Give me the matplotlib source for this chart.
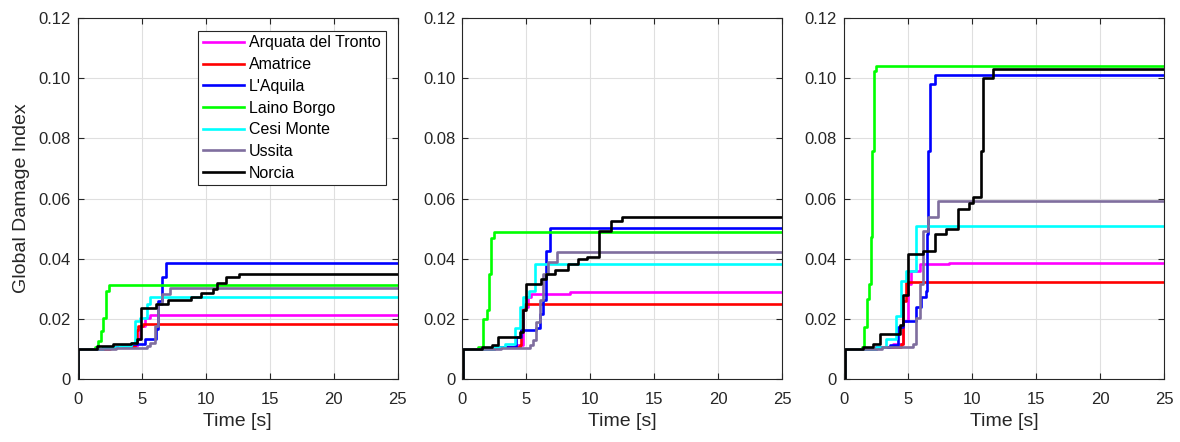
import matplotlib
matplotlib.use("Agg")
import matplotlib.pyplot as plt

plt.rcParams['font.family'] = ['Liberation Sans', 'DejaVu Sans']

names = ["Arquata del Tronto", "Amatrice", "L'Aquila", "Laino Borgo", "Cesi Monte", "Ussita", "Norcia"]
colors = ["#FF00FF", "#FF0000", "#0000FF", "#00FF00", "#00FFFF", "#7F6E9E", "#000000"]

x_ticks = [0, 5, 10, 15, 20, 25]
y_ticks = [0, 0.02, 0.04, 0.06, 0.08, 0.10, 0.12]
y_tick_labels = ["0", "0.02", "0.04", "0.06", "0.08", "0.10", "0.12"]

# ---- Panel 1 ----
arquata_t1 = [0, 0.05, 2.0, 3.5, 4.6, 4.85, 5.24, 5.66, 25]
arquata_v1 = [0, 0.010, 0.0105, 0.011, 0.0132, 0.0176, 0.0204, 0.0214, 0.0214]
amatrice_t1 = [0, 0.05, 2.5, 3.8, 4.46, 4.6, 4.72, 5.07, 25]
amatrice_v1 = [0, 0.010, 0.0105, 0.011, 0.012, 0.0164, 0.0176, 0.0184, 0.0184]
laquila_t1 = [0, 0.05, 2.0, 3.5, 4.2, 5.24, 6.1, 6.3, 6.6, 6.9, 25]
laquila_v1 = [0, 0.010, 0.0105, 0.011, 0.0115, 0.0132, 0.0167, 0.026, 0.0338, 0.0385, 0.0385]
laino_t1 = [0, 0.05, 1.35, 1.6, 1.8, 2.0, 2.2, 2.46, 25]
laino_v1 = [0, 0.010, 0.0105, 0.0127, 0.016, 0.0204, 0.0293, 0.0314, 0.0314]
cesi_t1 = [0, 0.05, 2.0, 3.3, 4.2, 4.46, 4.85, 5.4, 5.66, 25]
cesi_v1 = [0, 0.010, 0.0105, 0.011, 0.012, 0.0193, 0.0204, 0.0249, 0.0274, 0.0274]
ussita_t1 = [0, 0.05, 3.0, 5.4, 5.66, 6.05, 6.24, 6.59, 7.24, 25]
ussita_v1 = [0, 0.010, 0.0103, 0.011, 0.012, 0.0176, 0.0249, 0.0282, 0.0303, 0.0303]
norcia_t1 = [0, 0.05, 1.5, 2.77, 4.2, 4.6, 4.93, 6.1, 7.06, 8.88, 9.66, 10.6, 10.9, 11.6, 12.57, 25]
norcia_v1 = [0, 0.010, 0.011, 0.0116, 0.012, 0.0132, 0.0236, 0.0249, 0.0263, 0.0274, 0.0286, 0.0299, 0.0319, 0.034, 0.0348, 0.0348]

# ---- Panel 2 ----
arquata_t2 = [0, 0.05, 2.5, 4.09, 4.74, 5.13, 5.39, 8.37, 25]
arquata_v2 = [0, 0.010, 0.0105, 0.0112, 0.0239, 0.0272, 0.0283, 0.0289, 0.0289]
amatrice_t2 = [0, 0.05, 2.5, 4.48, 4.61, 4.87, 25]
amatrice_v2 = [0, 0.010, 0.0105, 0.0112, 0.0228, 0.0248, 0.0248]
laquila_t2 = [0, 0.05, 2.5, 3.83, 4.22, 4.61, 5.78, 6.03, 6.29, 6.55, 6.81, 25]
laquila_v2 = [0, 0.010, 0.0105, 0.0107, 0.014, 0.0162, 0.0168, 0.0217, 0.0261, 0.0426, 0.0501, 0.0501]
laino_t2 = [0, 0.05, 1.24, 1.63, 1.89, 2.07, 2.22, 2.48, 25]
laino_v2 = [0, 0.010, 0.0105, 0.020, 0.0228, 0.035, 0.047, 0.0489, 0.0489]
cesi_t2 = [0, 0.05, 2.5, 3.31, 4.09, 4.48, 4.74, 5.18, 5.65, 25]
cesi_v2 = [0, 0.010, 0.0105, 0.0116, 0.0171, 0.0239, 0.0272, 0.0294, 0.0382, 0.0382]
ussita_t2 = [0, 0.05, 3.0, 5.26, 5.5, 5.78, 6.03, 6.29, 6.68, 7.36, 25]
ussita_v2 = [0, 0.010, 0.0103, 0.0112, 0.0129, 0.019, 0.0261, 0.035, 0.0388, 0.0421, 0.0421]
norcia_t2 = [0, 0.05, 1.5, 2.28, 2.8, 4.48, 4.74, 5.0, 6.17, 6.55, 7.2, 8.24, 9.0, 9.74, 10.7, 11.6, 12.5, 25]
norcia_v2 = [0, 0.010, 0.0105, 0.0112, 0.014, 0.0156, 0.0228, 0.0316, 0.0333, 0.035, 0.0361, 0.0382, 0.0399, 0.0405, 0.0493, 0.0526, 0.0539, 0.0539]

# ---- Panel 3 ----
arquata_t3 = [0, 0.05, 2.5, 3.83, 4.6, 4.99, 5.25, 5.9, 8.23, 25]
arquata_v3 = [0, 0.010, 0.0105, 0.0117, 0.0194, 0.0316, 0.036, 0.0383, 0.0386, 0.0386]
amatrice_t3 = [0, 0.05, 2.5, 4.48, 4.6, 4.87, 25]
amatrice_v3 = [0, 0.010, 0.0105, 0.0117, 0.026, 0.0323, 0.0323]
laquila_t3 = [0, 0.05, 2.5, 3.57, 4.22, 4.6, 5.64, 6.03, 6.37, 6.47, 6.57, 6.68, 7.07, 25]
laquila_v3 = [0, 0.010, 0.0105, 0.0112, 0.0172, 0.0194, 0.0238, 0.0271, 0.0293, 0.0482, 0.0759, 0.098, 0.1011, 0.1011]
laino_t3 = [0, 0.05, 1.37, 1.55, 1.76, 1.97, 2.07, 2.2, 2.33, 2.48, 25]
laino_v3 = [0, 0.010, 0.0106, 0.0172, 0.0266, 0.0316, 0.0471, 0.0759, 0.1023, 0.1041, 0.1041]
cesi_t3 = [0, 0.05, 2.5, 3.31, 4.09, 4.48, 4.87, 5.64, 25]
cesi_v3 = [0, 0.010, 0.0105, 0.0134, 0.0211, 0.0327, 0.036, 0.0508, 0.0508]
ussita_t3 = [0, 0.05, 3.0, 5.38, 5.64, 5.9, 6.16, 6.55, 7.32, 25]
ussita_v3 = [0, 0.010, 0.0105, 0.0118, 0.0204, 0.0316, 0.0493, 0.0537, 0.0592, 0.0592]
norcia_t3 = [0, 0.05, 1.5, 2.28, 2.8, 4.35, 4.6, 4.99, 6.16, 7.07, 7.97, 8.88, 9.78, 10.04, 10.69, 10.87, 11.67, 25]
norcia_v3 = [0, 0.010, 0.0105, 0.0117, 0.0148, 0.0181, 0.028, 0.0414, 0.0427, 0.0482, 0.0498, 0.0564, 0.0586, 0.0605, 0.0759, 0.100, 0.1032, 0.1032]

panels = [
    [(arquata_t1, arquata_v1), (amatrice_t1, amatrice_v1), (laquila_t1, laquila_v1), (laino_t1, laino_v1),
     (cesi_t1, cesi_v1), (ussita_t1, ussita_v1), (norcia_t1, norcia_v1)],
    [(arquata_t2, arquata_v2), (amatrice_t2, amatrice_v2), (laquila_t2, laquila_v2), (laino_t2, laino_v2),
     (cesi_t2, cesi_v2), (ussita_t2, ussita_v2), (norcia_t2, norcia_v2)],
    [(arquata_t3, arquata_v3), (amatrice_t3, amatrice_v3), (laquila_t3, laquila_v3), (laino_t3, laino_v3),
     (cesi_t3, cesi_v3), (ussita_t3, ussita_v3), (norcia_t3, norcia_v3)],
]

fig = plt.figure(figsize=(11.8, 4.42), dpi=100)
lefts = [0.0658, 0.3919, 0.7153]
width = 0.2712
bottom = 0.1425
height = 0.8168

for i, series in enumerate(panels):
    ax = fig.add_axes([lefts[i], bottom, width, height])
    for (t, v), name, c in zip(series, names, colors):
        ax.plot(t, v, drawstyle='steps-post', color=c, lw=1.9, label=name)
    ax.set_xlim(0, 25)
    ax.set_ylim(0, 0.12)
    ax.set_xticks(x_ticks)
    ax.set_yticks(y_ticks)
    ax.set_yticklabels(y_tick_labels)
    ax.grid(True, color='#DFDFDF', lw=0.8)
    ax.set_axisbelow(True)
    ax.tick_params(axis='both', direction='in', labelsize=12, length=4, color='#262626',
                   top=True, right=True, labelcolor='#262626')
    ax.tick_params(axis='x', pad=9)
    ax.tick_params(axis='y', pad=5)
    for s in ax.spines.values():
        s.set_color('#262626')
        s.set_linewidth(0.8)
    ax.set_xlabel("Time [s]", fontsize=14, color='#262626', labelpad=5)
    if i == 0:
        ax.set_ylabel("Global Damage Index", fontsize=14, color='#262626', labelpad=6)
        leg = ax.legend(loc='upper left', bbox_to_anchor=(0.376, 0.965), fontsize=11.5,
                        frameon=True, fancybox=False, framealpha=1, edgecolor='#262626',
                        handlelength=2.6, handletextpad=0.3, labelspacing=0.42, borderpad=0.3,
                        borderaxespad=0)
        leg.get_frame().set_linewidth(0.8)

fig.savefig("out.png", dpi=100)
